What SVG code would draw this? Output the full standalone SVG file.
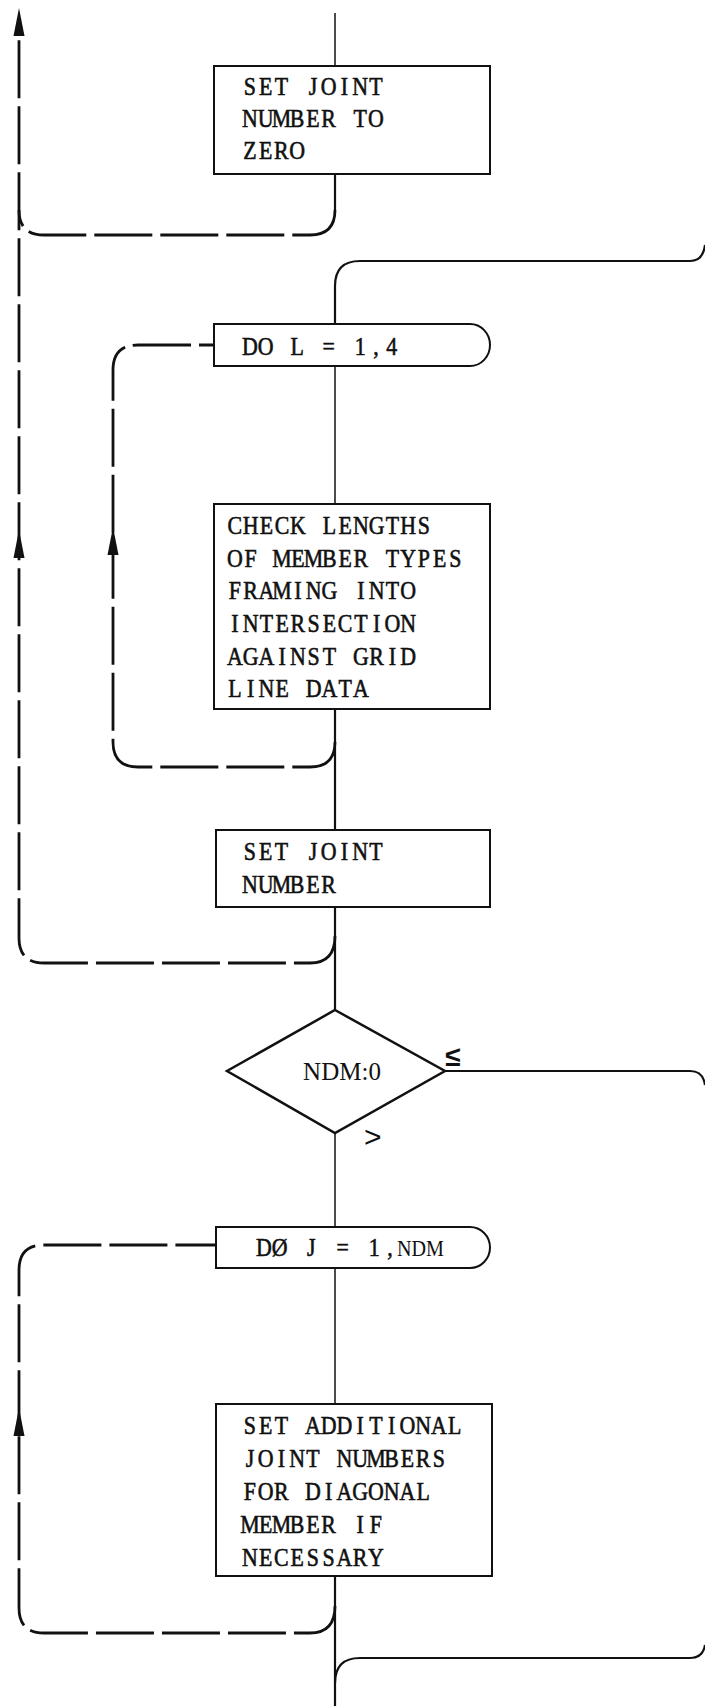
<svg xmlns="http://www.w3.org/2000/svg" width="705" height="1706" viewBox="0 0 705 1706">
<defs>
<style>
.bg{fill:#fff}
.box{fill:#fff;stroke:#111;stroke-width:2}
.dia{fill:#fff;stroke:#111;stroke-width:2.5}
.solid{fill:none;stroke:#111;stroke-width:2.2}
.thin{fill:none;stroke:#111;stroke-width:1.5}
.dash{fill:none;stroke:#111;stroke-width:2.8;stroke-dasharray:58 8}
.arrow{fill:#111}
.t{font-family:"Liberation Serif","Times New Roman",serif;font-size:25px;fill:#111;stroke:#111;stroke-width:0.6;text-anchor:middle}
.s{font-family:"Liberation Serif","Times New Roman",serif;fill:#111}
.lbl{font-family:"Liberation Sans",Arial,sans-serif;fill:#111}
</style>
</defs>
<rect class="bg" x="0" y="0" width="705" height="1706"/>
<g id="connectors">
<path class="thin" d="M335,13 V66"/>
<path class="solid" d="M335,174 V210"/>
<path class="dash" d="M335,210 Q335,235 310,235 H44 Q19,235 19,210"/>
<path class="solid" d="M705,245 Q703,261 690,261 H360 Q335,261 335,286 V324"/>
<path class="thin" d="M335,366 V504"/>
<path class="solid" d="M335,709 V830"/>
<path class="dash" d="M335,742 Q335,767 310,767 H138 Q113,767 113,742 V370 Q113,345 138,345 H214"/>
<path class="solid" d="M335,907 V1010"/>
<path class="dash" d="M335,936 Q335,963 310,963 H44 Q19,963 19,938 V30"/>
<path class="thin" d="M335,1133 V1227"/>
<path class="solid" d="M445,1071 H690 Q703,1071 705,1085"/>
<path class="thin" d="M335,1268 V1404"/>
<path class="solid" d="M335,1576 V1706"/>
<path class="dash" d="M335,1606 Q335,1633 310,1633 H44 Q19,1633 19,1608 V1270 Q19,1245 44,1245 H216"/>
<path class="solid" d="M705,1645 Q703,1658 690,1658 H360 Q335,1658 335,1683"/>
<polygon class="arrow" points="19,8 13.5,36 24.5,36"/>
<polygon class="arrow" points="19,530 13.5,558 24.5,558"/>
<polygon class="arrow" points="113,527 107.5,555 118.5,555"/>
<polygon class="arrow" points="19,1408 13.5,1436 24.5,1436"/>
<text class="lbl" x="445" y="1066" font-size="28" font-weight="bold">≤</text>
<text class="lbl" x="364" y="1147" font-size="30">&gt;</text>
</g>
<g id="n1">
<rect class="box" x="214" y="66" width="276" height="108"/>
<g transform="scale(0.875,1)">
<text class="t" y="95" x="285.6 303.6 321.6 339.6 357.6 375.6 393.6 411.6 429.6 447.6 465.6 483.6 501.6 519.6 537.6">SET JOINT</text>
<text class="t" y="127" x="285.6 303.6 321.6 339.6 357.6 375.6 393.6 411.6 429.6 447.6 465.6 483.6 501.6 519.6 537.6">NUMBER TO</text>
<text class="t" y="159" x="285.6 303.6 321.6 339.6 357.6 375.6 393.6 411.6 429.6 447.6 465.6 483.6 501.6 519.6 537.6">ZERO</text>
</g>
</g>
<g id="n2">
<path class="box" d="M214,324 H470 A20,21 0 0 1 470,366 H214 Z"/>
<g transform="scale(0.875,1)">
<text class="t" y="355" x="285.6 303.6 321.6 339.6 357.6 375.6 393.6 411.6 429.6 447.6 465.6 483.6 501.6 519.6 537.6">DO L = 1,4</text>
</g>
</g>
<g id="n3">
<rect class="box" x="214" y="504" width="276" height="205"/>
<g transform="scale(0.875,1)">
<text class="t" y="534" x="268.4 286.4 304.4 322.4 340.4 358.4 376.4 394.4 412.4 430.4 448.4 466.4 484.4 502.4 520.4">CHECK LENGTHS</text>
<text class="t" y="567" x="268.4 286.4 304.4 322.4 340.4 358.4 376.4 394.4 412.4 430.4 448.4 466.4 484.4 502.4 520.4">OF MEMBER TYPES</text>
<text class="t" y="599" x="268.4 286.4 304.4 322.4 340.4 358.4 376.4 394.4 412.4 430.4 448.4 466.4 484.4 502.4 520.4">FRAMING INTO</text>
<text class="t" y="632" x="268.4 286.4 304.4 322.4 340.4 358.4 376.4 394.4 412.4 430.4 448.4 466.4 484.4 502.4 520.4">INTERSECTION</text>
<text class="t" y="665" x="268.4 286.4 304.4 322.4 340.4 358.4 376.4 394.4 412.4 430.4 448.4 466.4 484.4 502.4 520.4">AGAINST GRID</text>
<text class="t" y="697" x="268.4 286.4 304.4 322.4 340.4 358.4 376.4 394.4 412.4 430.4 448.4 466.4 484.4 502.4 520.4">LINE DATA</text>
</g>
</g>
<g id="n4">
<rect class="box" x="216" y="830" width="274" height="77"/>
<g transform="scale(0.875,1)">
<text class="t" y="860" x="285.6 303.6 321.6 339.6 357.6 375.6 393.6 411.6 429.6 447.6 465.6 483.6 501.6 519.6 537.6">SET JOINT</text>
<text class="t" y="893" x="285.6 303.6 321.6 339.6 357.6 375.6 393.6 411.6 429.6 447.6 465.6 483.6 501.6 519.6 537.6">NUMBER</text>
</g>
</g>
<g id="n5">
<polygon class="dia" points="335,1010 445,1071 335,1133 227,1071"/>
<text class="s" x="342" y="1080" font-size="25" text-anchor="middle">NDM:0</text>
</g>
<g id="n6">
<path class="box" d="M216,1227 H470 A20,20.5 0 0 1 470,1268 H216 Z"/>
<g transform="scale(0.875,1)">
<text class="t" y="1256" x="301.6 319.6 337.6 355.6 373.6 391.6 409.6 427.6 445.6">DØ J = 1,<tspan x="453.7" style="text-anchor:start;stroke:none;font-size:23px">NDM</tspan></text>
</g>
</g>
<g id="n7">
<rect class="box" x="216" y="1404" width="276" height="172"/>
<g transform="scale(0.875,1)">
<text class="t" y="1434" x="285.6 303.6 321.6 339.6 357.6 375.6 393.6 411.6 429.6 447.6 465.6 483.6 501.6 519.6 537.6">SET ADDITIONAL</text>
<text class="t" y="1467" x="285.6 303.6 321.6 339.6 357.6 375.6 393.6 411.6 429.6 447.6 465.6 483.6 501.6 519.6 537.6">JOINT NUMBERS</text>
<text class="t" y="1500" x="285.6 303.6 321.6 339.6 357.6 375.6 393.6 411.6 429.6 447.6 465.6 483.6 501.6 519.6 537.6">FOR DIAGONAL</text>
<text class="t" y="1533" x="285.6 303.6 321.6 339.6 357.6 375.6 393.6 411.6 429.6 447.6 465.6 483.6 501.6 519.6 537.6">MEMBER IF</text>
<text class="t" y="1566" x="285.6 303.6 321.6 339.6 357.6 375.6 393.6 411.6 429.6 447.6 465.6 483.6 501.6 519.6 537.6">NECESSARY</text>
</g>
</g>
</svg>
